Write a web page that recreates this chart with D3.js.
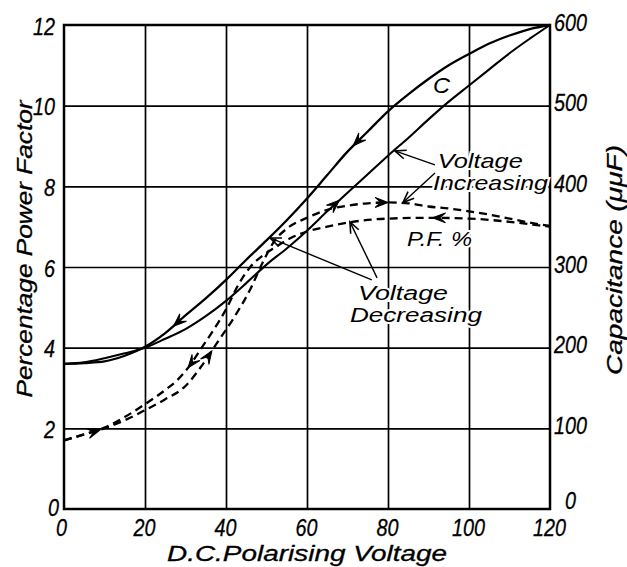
<!DOCTYPE html>
<html><head><meta charset="utf-8">
<script src="https://cdn.jsdelivr.net/npm/d3@7"></script>
<style>body{margin:0;background:#fff}</style>
</head><body><svg id="c" width="627" height="567"></svg>
<script>
// ---- data ----
const xTicks = [0, 20, 40, 60, 80, 100, 120];
const pfTicks = [0, 2, 4, 6, 8, 10, 12];
const capTicks = [0, 100, 200, 300, 400, 500, 600];

// Capacitance (μμF), voltage decreasing (upper solid curve)
const capDecV = [0,5,10,15,20,25,30,35,40,45,50,55,60,65,70,75,80,85,90,95,100,105,110,115,120];
const capDecVal = [180,181,183,190,201,218,240,261,284,309,333,358,385,414,443,468,493,514,533,550,564,577,587,595,600];
// Capacitance (μμF), voltage increasing (lower solid curve)
const capIncV = [0,5,10,15,20,25,30,35,40,45,50,55,60,65,70,75,80,85,90,95,100,105,110,115,120];
const capIncVal = [180,182,187,193,200,211,223,239,258,280,303,323,345,369,392,415,438,460,483,505,525,545,565,583,600];
// Power factor %, voltage increasing (dashed)
const pfIncV = [0,5,10,15,20,25,30,34,38,42,46,49,52,55,60,65,70,75,80,85,90,95,100,105,110,115,120];
const pfIncVal = [1.7,1.85,2.0,2.2,2.45,2.72,3.05,3.55,4.15,4.75,5.45,6.1,6.65,6.95,7.22,7.42,7.52,7.58,7.6,7.58,7.5,7.45,7.38,7.3,7.2,7.1,7.02];
// Power factor %, voltage decreasing (dashed)
const pfDecV = [0,5,10,15,20,25,28,31,34,37,40,43,46,49,52,56,60,65,70,80,90,100,110,115,120];
const pfDecVal = [1.7,1.85,2.02,2.28,2.6,2.95,3.2,3.55,4.0,4.45,4.95,5.55,6.0,6.28,6.48,6.72,6.88,7.0,7.1,7.2,7.22,7.2,7.12,7.06,7.0];

// ---- layout ----
const L = 64, R = 550, T = 25, B = 509;
const svg = d3.select("#c");
const x = d3.scaleLinear().domain([0, 120]).range([L, R]);
const y = d3.scaleLinear().domain([0, 12]).range([B, T]);
const yc = d3.scaleLinear().domain([0, 600]).range([B, T]);
const FONT = "'Liberation Sans', Arial, sans-serif";

// gridlines
svg.append("g").attr("transform", `translate(0,${B})`)
  .call(d3.axisBottom(x).tickValues(xTicks.slice(1, -1)).tickSize(-(B - T)).tickFormat(""))
  .call(g => g.select(".domain").remove())
  .call(g => g.selectAll("line").attr("stroke", "#000").attr("stroke-width", 1.7));
svg.append("g").attr("transform", `translate(${L},0)`)
  .call(d3.axisLeft(y).tickValues(pfTicks.slice(1, -1)).tickSize(-(R - L)).tickFormat(""))
  .call(g => g.select(".domain").remove())
  .call(g => g.selectAll("line").attr("stroke", "#000").attr("stroke-width", 1.7));

// frame
svg.append("rect").attr("x", L).attr("y", T).attr("width", R - L).attr("height", B - T)
  .attr("fill", "none").attr("stroke", "#000").attr("stroke-width", 2.5);

// tick labels
function styleText(g) {
  g.selectAll("text").attr("font-family", FONT).attr("font-style", "italic")
    .attr("font-size", 23).attr("fill", "#000").attr("dy", null)
    .attr("stroke", "#000").attr("stroke-width", 0.3)
    .attr("textLength", d => String(d).length * 11)
    .attr("lengthAdjust", "spacingAndGlyphs");
}
svg.append("g").attr("transform", `translate(0,${B})`)
  .call(d3.axisBottom(x).tickValues(xTicks).tickSize(0).tickFormat(d3.format("d")))
  .call(g => g.select(".domain").remove())
  .call(styleText)
  .call(g => g.selectAll("text").attr("y", 27).attr("x", d => d === 0 ? -3 : -1));
svg.append("g").attr("transform", `translate(${L},0)`)
  .call(d3.axisLeft(y).tickValues(pfTicks).tickSize(0).tickFormat(d3.format("d")))
  .call(g => g.select(".domain").remove())
  .call(styleText)
  .call(g => g.selectAll("text").attr("x", d => d === 0 ? -5 : -9).attr("y", d => d === 0 ? 6 : 9));
svg.append("g").attr("transform", `translate(${R},0)`)
  .call(d3.axisRight(yc).tickValues(capTicks).tickSize(0).tickFormat(d3.format("d")))
  .call(g => g.select(".domain").remove())
  .call(styleText)
  .call(g => g.selectAll("text").attr("x", d => d === 0 ? 15 : 4).attr("y", d => d === 0 ? -1 : 5));

// axis titles
function title(txt, tx, ty, rot, len) {
  svg.append("text").attr("transform", `translate(${tx},${ty}) rotate(${rot})`)
    .attr("text-anchor", "middle").attr("font-family", FONT).attr("font-style", "italic")
    .attr("font-size", 22).attr("stroke", "#000").attr("stroke-width", 0.3)
    .attr("textLength", len).attr("lengthAdjust", "spacingAndGlyphs").text(txt);
}
title("Percentage Power Factor", 32, 249, -90, 297);
title("Capacitance (\u03bc\u03bcF)", 622, 260, -90, 230);
title("D.C.Polarising Voltage", 307, 561, 0, 280);

// curves
const lineC = (vs, vals) => d3.line().curve(d3.curveMonotoneX)
  .x((d, i) => x(vs[i])).y((d, i) => yc(vals[i]))(vals);
const lineP = (vs, vals) => d3.line().curve(d3.curveMonotoneX)
  .x((d, i) => x(vs[i])).y((d, i) => y(vals[i]))(vals);

const curves = {};
curves.capDec = svg.append("path").attr("d", lineC(capDecV, capDecVal))
  .attr("fill", "none").attr("stroke", "#000").attr("stroke-width", 2.3);
curves.capInc = svg.append("path").attr("d", lineC(capIncV, capIncVal))
  .attr("fill", "none").attr("stroke", "#000").attr("stroke-width", 2.1);
curves.pfInc = svg.append("path").attr("d", lineP(pfIncV, pfIncVal))
  .attr("fill", "none").attr("stroke", "#000").attr("stroke-width", 2.3).attr("stroke-dasharray", "8,5");
curves.pfDec = svg.append("path").attr("d", lineP(pfDecV, pfDecVal))
  .attr("fill", "none").attr("stroke", "#000").attr("stroke-width", 2.3).attr("stroke-dasharray", "8,5");

// arrow heads on curves
function head(px, py, ang, len, half, filled) {
  const p = `M0,0 L${-len},${-half} L${-len * 0.55},0 L${-len},${half} Z`;
  const o = svg.append("path").attr("d", filled ? p : `M${-len},${-half} L0,0 L${-len},${half}`)
    .attr("transform", `translate(${px},${py}) rotate(${ang})`);
  if (filled) o.attr("fill", "#000").attr("stroke", "#000").attr("stroke-width", 1);
  else o.attr("fill", "none").attr("stroke", "#000").attr("stroke-width", 1.6);
}
function arrowOn(key, v, dir) {
  const node = curves[key].node();
  const total = node.getTotalLength();
  const tx = x(v);
  let best = 0, bd = 1e9;
  for (let s = 0; s <= total; s += 0.5) {
    const p = node.getPointAtLength(s);
    const dd = Math.abs(p.x - tx);
    if (dd < bd) { bd = dd; best = s; }
  }
  const p = node.getPointAtLength(best);
  const a = node.getPointAtLength(Math.max(0, best - 3));
  const b = node.getPointAtLength(Math.min(total, best + 3));
  let ang = Math.atan2(b.y - a.y, b.x - a.x) * 180 / Math.PI;
  if (dir < 0) ang += 180;
  head(p.x, p.y, ang, 13, 5, true);
}
const curveArrows = [
  ["capDec", 71.4, -1], ["capDec", 27, -1],
  ["capInc", 68, 1],
  ["pfInc", 80, 1], ["pfInc", 36.5, 1], ["pfInc", 9, 1],
  ["pfDec", 91, -1], ["pfDec", 30.6, -1]
];
curveArrows.forEach(a => arrowOn(a[0], a[1], a[2]));

// leader lines (data coords: from label to curve)
const leaders = [
  [91.6, 8.53, 81.7, 8.88],
  [91.6, 8.33, 83.7, 7.6],
  [76.0, 5.68, 50.9, 6.72],
  [77.3, 5.73, 70.6, 7.12]
];
leaders.forEach(l => {
  const x1 = x(l[0]), y1 = y(l[1]), x2 = x(l[2]), y2 = y(l[3]);
  svg.append("line").attr("x1", x1).attr("y1", y1).attr("x2", x2).attr("y2", y2)
    .attr("stroke", "#000").attr("stroke-width", 1.4);
  head(x2, y2, Math.atan2(y2 - y1, x2 - x1) * 180 / Math.PI, 11, 4.5, false);
});

// annotations (data coords of text start / baseline)
const notes = [
  ["C", 91.1, 10.32, 17, 22],
  ["Voltage", 92.3, 8.46, 85, 21],
  ["Increasing", 91.1, 7.91, 115, 21],
  ["P.F. %", 84.7, 6.52, 65, 21],
  ["Voltage", 72.6, 5.18, 90, 20],
  ["Decreasing", 70.6, 4.64, 132, 20]
];
notes.forEach(n => {
  svg.append("text").attr("x", x(n[1])).attr("y", y(n[2]))
    .attr("font-family", FONT).attr("font-style", "italic").attr("font-size", n[4])
    .attr("textLength", n[3]).attr("lengthAdjust", "spacingAndGlyphs")
    .attr("stroke", "#fff").attr("stroke-width", 4).attr("paint-order", "stroke")
    .attr("fill", "#000").text(n[0]);
});
</script></body></html>
